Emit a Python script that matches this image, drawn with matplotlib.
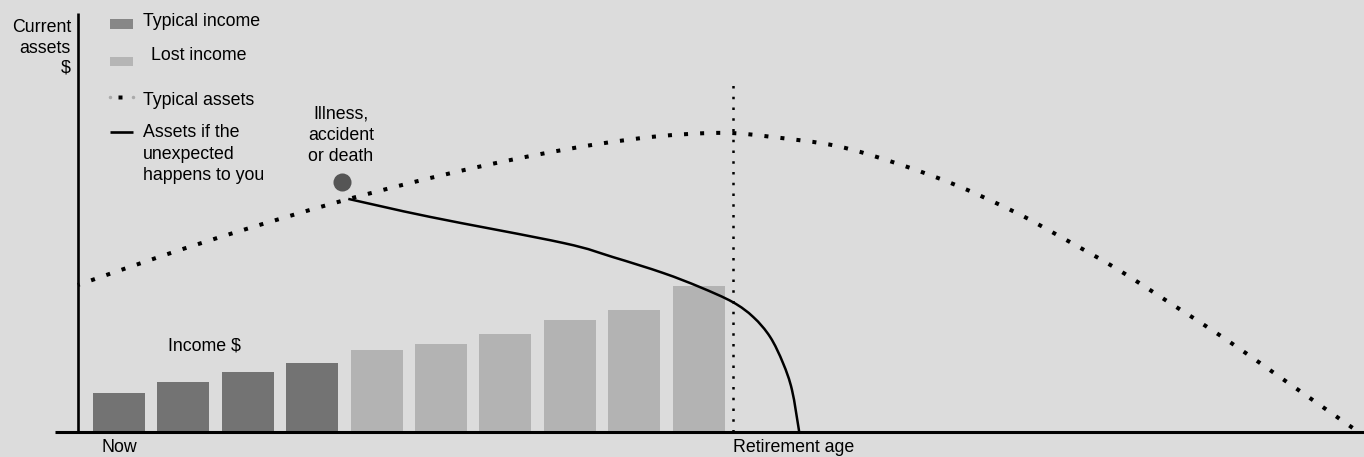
import numpy as np
import matplotlib
matplotlib.use("Agg")
import matplotlib.pyplot as plt
from matplotlib.patches import Rectangle, PathPatch
from matplotlib.path import Path

plt.rcParams['font.family'] = ['Liberation Sans', 'DejaVu Sans']

# ---------------- data ----------------
bar_x = np.arange(1, 11)
income = [13.0, 16.7, 20.0, 23.0, 27.3, 29.3, 32.7, 37.3, 40.7, 48.7]
income_kind = ['typical'] * 4 + ['lost'] * 6

typical_x = [0.36, 1.71, 2.89, 4.32, 5.52, 6.50, 7.46, 8.44, 9.43, 10.41, 11.16,
             12.15, 13.11, 14.03, 14.94, 15.60, 16.47, 17.32, 18.16, 18.98, 19.80, 20.18]
typical_y = [49.0, 59.0, 67.1, 76.2, 83.0, 88.0, 92.3, 96.0, 98.7, 99.7, 98.3,
             95.3, 89.3, 82.0, 73.0, 65.3, 54.7, 43.0, 31.3, 19.0, 6.7, 1.0]

unexpected_x = [4.56, 5.83, 7.90, 8.67, 9.45, 10.02, 10.53, 10.85, 11.11, 11.31, 11.45, 11.56]
unexpected_y = [77.7, 71.7, 63.0, 58.3, 53.0, 48.3, 43.3, 38.3, 31.7, 23.0, 14.0, 0.3]

event_x, event_y = 4.46, 83.3
retire_x = 10.53
retire_top = 117.5
now_x = 1
yaxis_x = 0.363
yaxis_top = 139.7

legend_labels = ['Typical income', 'Lost income', 'Typical assets']
unexpected_label = ['Assets if the', 'unexpected', 'happens to you']
event_label = ['Illness,', 'accident', 'or death']
ylabel_lines = ['Current', 'assets', '$']

# ---------------- style ----------------
W, H = 1364, 457
BG = '#dcdcdc'
DARK = '#737373'
LIGHT = '#b3b3b3'
FS = 12.8

fig = plt.figure(figsize=(W / 100, H / 100), dpi=100)
fig.patch.set_facecolor(BG)
ax = fig.add_axes([0, 0, 1, 1])
ax.set_facecolor(BG)
ax.axis('off')
ax.set_xlim(-0.848, 20.332)
ax.set_ylim(-8.333, 144)


def fx(px):
    return px / W


def fy(py):
    return 1 - py / H


def smooth_path(xs, ys):
    """Catmull-Rom curve through the read points, drawn as Bezier segments."""
    P = np.column_stack([xs, ys]).astype(float)
    n = len(P)
    verts = [P[0]]
    codes = [Path.MOVETO]
    for i in range(n - 1):
        p0 = P[i - 1] if i > 0 else P[i]
        p1 = P[i]
        p2 = P[i + 1]
        p3 = P[i + 2] if i + 2 < n else P[i + 1]
        verts += [p1 + (p2 - p0) / 6, p2 - (p3 - p1) / 6, p2]
        codes += [Path.CURVE4] * 3
    return Path(verts, codes)


# bars
colors = [DARK if k == 'typical' else LIGHT for k in income_kind]
ax.bar(bar_x, income, width=0.807, color=colors, linewidth=0, zorder=2)

# axes lines
ax.plot([yaxis_x, yaxis_x], [0, yaxis_top], color='black', lw=1.9,
        solid_capstyle='butt', zorder=3)
ax.plot([0.006, 20.332], [0, 0], color='black', lw=2.2,
        solid_capstyle='butt', zorder=3, clip_on=False)

# retirement line
ax.plot([retire_x, retire_x], [0, retire_top], color='black', lw=1.8,
        linestyle=(0, (1, 3.3)), dash_capstyle='butt', zorder=3)

# typical assets
pp = PathPatch(smooth_path(typical_x, typical_y), fill=False, edgecolor='black',
               lw=2.9, linestyle=(0.5, (1, 3)), zorder=4)
pp.set_capstyle('butt')
ax.add_patch(pp)

# unexpected assets
pu = PathPatch(smooth_path(unexpected_x, unexpected_y), fill=False,
               edgecolor='black', lw=1.8, zorder=4)
ax.add_patch(pu)

# event marker
ax.plot([event_x], [event_y], 'o', ms=13, color='#555555', mec='none', zorder=5)

# ---------------- texts ----------------
for line, py in zip(ylabel_lines, [32, 53, 72.5]):
    ax.text(fx(71), fy(py), line, transform=ax.transAxes, ha='right',
            va='baseline', fontsize=FS)

# legend
ax.add_patch(Rectangle((fx(110), fy(29)), 23 / W, 10 / H, transform=ax.transAxes,
                       color='#878787', lw=0))
ax.add_patch(Rectangle((fx(110), fy(66)), 23 / W, 9 / H, transform=ax.transAxes,
                       color='#b5b5b5', lw=0))
ax.text(fx(143), fy(26), legend_labels[0], transform=ax.transAxes,
        va='baseline', fontsize=FS)
ax.text(fx(151), fy(59.5), legend_labels[1], transform=ax.transAxes,
        va='baseline', fontsize=FS)
ax.plot([fx(110), fx(133)], [fy(96.7)] * 2, 'o', ms=2.5, color='#aaaaaa',
        mec='none', transform=ax.transAxes)
ax.plot([fx(119.5)], [fy(96.7)], 's', ms=3, color='black', mec='none',
        transform=ax.transAxes)
ax.text(fx(143), fy(105), legend_labels[2], transform=ax.transAxes,
        va='baseline', fontsize=FS)
ax.plot([fx(110), fx(133)], [fy(131.7)] * 2, color='black', lw=1.9,
        solid_capstyle='butt', transform=ax.transAxes)
for line, py in zip(unexpected_label, [137.3, 159.3, 180]):
    ax.text(fx(143), fy(py), line, transform=ax.transAxes, va='baseline',
            fontsize=FS)

# event label
for line, py in zip(event_label, [118.3, 140, 161]):
    ax.text(fx(341), fy(py), line, transform=ax.transAxes, ha='center',
            va='baseline', fontsize=FS)

ax.text(fx(168), fy(351), 'Income $', transform=ax.transAxes, va='baseline',
        fontsize=FS)
ax.text(now_x, -6.57, 'Now', ha='center', va='baseline', fontsize=FS)
ax.text(retire_x, -6.57, 'Retirement age', ha='left', va='baseline', fontsize=FS)

fig.savefig('out.png', dpi=100, facecolor=BG)
